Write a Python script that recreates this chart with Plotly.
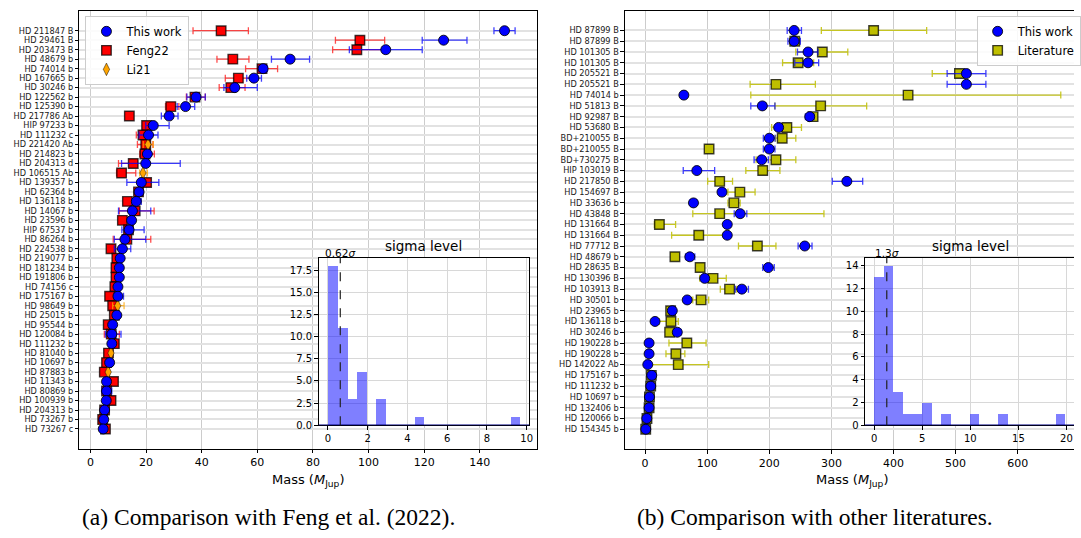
import plotly.graph_objects as go
import numpy as np

W, H = 1081, 538
FONT = "DejaVu Sans"

# ---------------- panel (a): comparison with Feng22 / Li21 ----------------
names_a = ["HD 211847 B", "HD 29461 B", "HD 203473 B", "HD 48679 b", "HD 74014 b",
           "HD 167665 b", "HD 30246 b", "HD 122562 b", "HD 125390 b", "HD 217786 Ab",
           "HIP 97233 b", "HD 111232 c", "HD 221420 Ab", "HD 214823 b", "HD 204313 d",
           "HD 106515 Ab", "HD 139357 b", "HD 62364 b", "HD 136118 b", "HD 14067 b",
           "HD 23596 b", "HIP 67537 b", "HD 86264 b", "HD 224538 b", "HD 219077 b",
           "HD 181234 b", "HD 191806 b", "HD 74156 c", "HD 175167 b", "HD 98649 b",
           "HD 25015 b", "HD 95544 b", "HD 120084 b", "HD 111232 b", "HD 81040 b",
           "HD 10697 b", "HD 87883 b", "HD 11343 b", "HD 80869 b", "HD 100939 b",
           "HD 204313 b", "HD 73267 b", "HD 73267 c"]

this_a = [148.9, 127.0, 106.2, 71.8, 62.1, 58.8, 51.9, 38.0, 34.2, 28.3,
          22.6, 20.9, None, 20.5, 19.9, None, 18.3, 17.5, 16.5, 15.1,
          14.8, 13.9, 12.4, 11.5, 10.7, 10.4, 10.4, 9.9, 9.9, None,
          9.5, 8.0, 7.7, 7.7, None, 6.9, None, 5.8, 5.8, 5.7,
          5.1, 4.8, 4.6]
this_a_em = [3.8, 7.7, 13.1, 6.7, 1.5, 2.6, 3.9, 3.3, 3.0, 2.8,
             2.7, 3.4, 0, 1.0, 8.7, 0, 5.2, 0.5, 1.6, 5.0,
             0.8, 2.6, 3.8, 2.9, 0.4, 0.5, 0.5, 0.4, 1.3, 0,
             0.5, 0.5, 2.3, 0.4, 0, 0.3, 0, 0.4, 1.5, 0.5,
             0.3, 0.2, 0.4]
this_a_ep = [3.8, 8.4, 13.1, 7.0, 1.5, 2.7, 8.1, 3.3, 3.3, 3.2,
             5.7, 3.4, 0, 1.0, 12.4, 0, 6.3, 0.5, 1.8, 6.6,
             0.8, 5.4, 7.5, 3.0, 0.4, 0.5, 0.5, 0.4, 2.0, 0,
             0.5, 0.5, 3.3, 0.4, 0, 0.3, 0, 0.4, 1.9, 0.5,
             0.3, 0.2, 0.4]

feng_a = [47.0, 96.9, 95.8, 51.2, 61.7, 53.2, 50.5, 37.6, 28.9, 14.0,
          20.2, 18.9, 19.9, 19.6, 15.4, 11.2, 20.2, 17.3, 13.3, 16.1,
          11.5, 13.7, 13.1, 7.4, 9.5, 9.2, 9.2, 8.8, 6.9, 8.0,
          8.6, 6.4, 7.5, 8.6, 6.5, 5.8, 5.0, 8.3, 5.8, 7.4,
          5.1, 4.4, 5.4]
feng_a_em = [10.1, 8.8, 8.7, 5.7, 5.9, 4.7, 4.2, 3.1, 1.9, 0,
             1.3, 2.4, 3.0, 1.9, 5.3, 1.8, 1.2, 0.5, 0.7, 5.7,
             0.6, 0.6, 4.9, 0.3, 0.4, 0.4, 0.4, 0.4, 0.4, 0.4,
             0.6, 0.4, 2.5, 0.4, 0.4, 0.3, 0.3, 0.4, 0.4, 0.6,
             0.3, 0.3, 0.4]
feng_a_ep = [9.8, 8.9, 9.2, 5.8, 5.6, 4.8, 5.1, 3.7, 2.9, 0,
             1.5, 2.9, 2.6, 3.4, 0.9, 5.1, 1.2, 0.5, 0.7, 6.8,
             0.6, 0.6, 8.6, 0.3, 0.4, 0.4, 0.4, 0.4, 0.4, 0.4,
             0.6, 0.4, 2.9, 0.4, 0.4, 0.3, 0.3, 0.4, 0.4, 0.6,
             0.3, 0.3, 0.4]

li_names = ["HD 221420 Ab", "HD 106515 Ab", "HD 98649 b", "HD 81040 b", "HD 87883 b"]
li_a = [20.7, 18.9, 9.8, 7.4, 6.4]
li_a_em = [1.7, 1.2, 1.8, 0.5, 0.5]
li_a_ep = [1.9, 1.6, 2.3, 0.5, 0.5]

sigma_a_counts = [18, 11, 3, 6, 0, 3, 0, 0, 0, 1, 0, 0, 0, 0, 0, 0, 0, 0, 0, 1]
sigma_a_lo, sigma_a_hi = 0.0, 9.66
sigma_a_med = 0.62

# ---------------- panel (b): comparison with other literature ----------------
names_b = ["HD 87899 B", "HD 87899 B", "HD 101305 B", "HD 101305 B", "HD 205521 B",
           "HD 205521 B", "HD 74014 b", "HD 51813 B", "HD 92987 B", "HD 53680 B",
           "BD+210055 B", "BD+210055 B", "BD+730275 B", "HIP 103019 B", "HD 217850 B",
           "HD 154697 B", "HD 33636 b", "HD 43848 B", "HD 131664 B", "HD 131664 B",
           "HD 77712 B", "HD 48679 b", "HD 28635 B", "HD 130396 B", "HD 103913 B",
           "HD 30501 b", "HD 23965 b", "HD 136118 b", "HD 30246 b", "HD 190228 b",
           "HD 190228 b", "HD 142022 Ab", "HD 175167 b", "HD 111232 b", "HD 10697 b",
           "HD 132406 b", "HD 120066 b", "HD 154345 b"]

this_b = [240.0, 240.0, 262.4, 262.4, 517.4, 517.4, 62.4, 188.8, 265.1, 215.0,
          200.0, 200.0, 187.8, 83.3, 324.9, 123.8, 77.9, 153.1, 132.3, 132.3,
          257.1, 72.0, 198.4, 96.0, 155.8, 67.8, 43.8, 16.0, 51.8, 6.4,
          6.4, 4.3, 10.7, 9.1, 7.0, 6.4, 2.7, 1.1]
this_b_em = [11.2, 10.0, 17.0, 21.4, 31.0, 31.0, 0, 18.6, 7.0, 5.0,
             9.6, 9.6, 12.3, 21.9, 23.5, 0, 3.0, 9.6, 0, 0,
             10.7, 6.9, 9.0, 0, 10.7, 0, 0, 0, 6.0, 0,
             0, 0, 0, 0, 0, 0, 0, 0]
this_b_ep = [11.8, 10.0, 16.0, 17.1, 31.4, 31.4, 0, 20.3, 7.0, 5.0,
             9.1, 9.1, 10.6, 28.7, 25.5, 0, 3.0, 10.7, 0, 0,
             11.7, 8.0, 9.6, 0, 10.6, 0, 0, 0, 6.0, 0,
             0, 0, 0, 0, 0, 0, 0, 0]

lit_b = [368.0, 241.0, 285.4, 246.4, 506.2, 210.7, 423.5, 282.7, 270.5, 228.3,
         220.8, 103.0, 210.7, 189.4, 120.1, 152.6, 143.0, 120.1, 23.0, 86.4,
         180.8, 48.0, 88.6, 109.4, 136.0, 90.2, 41.1, 41.6, 39.5, 67.2,
         49.6, 53.4, 10.0, 9.0, 7.0, 6.4, 3.0, 1.0]
lit_b_em = [84.2, 8.0, 42.7, 25.0, 43.8, 41.6, 253.3, 73.7, 6.0, 24.5,
            10.6, 0, 32.0, 27.2, 19.3, 19.2, 9.6, 43.3, 8.0, 43.7,
            30.4, 0, 0, 21.4, 14.9, 13.4, 0, 19.2, 5.0, 28.8,
            16.0, 47.0, 0, 0, 0, 0, 0, 0]
lit_b_ep = [85.4, 8.0, 41.0, 25.1, 15.0, 63.5, 245.9, 74.1, 6.0, 23.5,
            21.9, 0, 32.0, 27.7, 20.7, 24.5, 10.1, 167.9, 26.1, 40.0,
            29.9, 0, 0, 21.3, 10.7, 12.2, 0, 11.8, 5.0, 31.0,
            14.4, 49.0, 0, 0, 0, 0, 0, 0]

sigma_b_counts = [13, 14, 3, 1, 1, 2, 0, 1, 0, 0, 1, 0, 0, 1, 0, 0, 0, 0, 0, 1]
sigma_b_lo, sigma_b_hi = 0.0, 19.9
sigma_b_med = 1.3

# ---------------- figure ----------------
BLUE, RED, ORANGE, OLIVE = "#0000ff", "#ff0000", "#ffa500", "#bfbf00"
ya = list(range(len(names_a)))
yb = list(range(len(names_b)))
li_y = [names_a.index(n) for n in li_names]

def err(em, ep, color):
    return dict(type="data", symmetric=False, array=ep, arrayminus=em,
                color=color, thickness=1.3, width=3.5)

fig = go.Figure()

# panel (a)
fig.add_trace(go.Scatter(x=feng_a, y=ya, mode="markers", name="Feng22",
                         legendrank=2, xaxis="x", yaxis="y",
                         marker=dict(symbol="square", size=9.5, color=RED,
                                     line=dict(color="rgba(0,0,0,0.75)", width=1.4)),
                         error_x=err(feng_a_em, feng_a_ep, "rgba(255,0,0,0.7)")))
fig.add_trace(go.Scatter(x=li_a, y=li_y, mode="markers", name="Li21",
                         legendrank=3, xaxis="x", yaxis="y",
                         marker=dict(symbol="diamond-tall", size=9, color=ORANGE,
                                     line=dict(color="rgba(0,0,0,0.6)", width=0.8)),
                         error_x=err(li_a_em, li_a_ep, "rgba(255,165,0,0.75)")))
fig.add_trace(go.Scatter(x=this_a, y=ya, mode="markers", name="This work",
                         legendrank=1, xaxis="x", yaxis="y",
                         marker=dict(symbol="circle", size=10, color=BLUE,
                                     line=dict(color="rgba(0,0,0,0.85)", width=1)),
                         error_x=err(this_a_em, this_a_ep, "rgba(0,0,255,0.75)")))

# panel (b)
fig.add_trace(go.Scatter(x=lit_b, y=yb, mode="markers", name="Literature",
                         legend="legend2", legendrank=2, xaxis="x3", yaxis="y3",
                         marker=dict(symbol="square", size=9.5, color=OLIVE,
                                     line=dict(color="rgba(0,0,0,0.75)", width=1.4)),
                         error_x=err(lit_b_em, lit_b_ep, "rgba(191,191,0,0.85)")))
fig.add_trace(go.Scatter(x=this_b, y=yb, mode="markers", name="This work",
                         legend="legend2", legendrank=1, xaxis="x3", yaxis="y3",
                         marker=dict(symbol="circle", size=10, color=BLUE,
                                     line=dict(color="rgba(0,0,0,0.85)", width=1)),
                         error_x=err(this_b_em, this_b_ep, "rgba(0,0,255,0.75)")))

# histograms
def hist_trace(counts, lo, hi, xa, ya_):
    edges = np.linspace(lo, hi, len(counts) + 1)
    centers = (edges[:-1] + edges[1:]) / 2
    return go.Bar(x=centers, y=counts, width=edges[1] - edges[0], xaxis=xa, yaxis=ya_,
                  marker=dict(color="rgba(0,0,255,0.5)", line=dict(width=0)),
                  showlegend=False)

fig.add_trace(hist_trace(sigma_a_counts, sigma_a_lo, sigma_a_hi, "x2", "y2"))
fig.add_trace(hist_trace(sigma_b_counts, sigma_b_lo, sigma_b_hi, "x4", "y4"))

def px_x(p):
    return p / W

def px_y(p):
    return 1 - p / H

main_axis = dict(showline=True, linecolor="black", linewidth=1, ticks="outside",
                 ticklen=3.5, tickwidth=1, tickcolor="black", zeroline=False,
                 tickfont=dict(family=FONT, size=11, color="black"))
ygrid = dict(showgrid=True, gridcolor="#e2e2e2", gridwidth=2)
xgrid = dict(showgrid=True, gridcolor="#cccccc", gridwidth=1)
inset_grid = dict(showgrid=True, gridcolor="#d8d8d8", gridwidth=1)
small = {**main_axis, "tickfont": dict(family=FONT, size=10, color="black")}
ylab = {**main_axis, "tickfont": dict(family=FONT, size=8.2, color="#1a1a1a")}

fig.update_layout(
    width=W, height=H, margin=dict(l=0, r=0, t=0, b=0),
    paper_bgcolor="white", plot_bgcolor="white",
    font=dict(family=FONT, color="black"),
    bargap=0,
    xaxis=dict(domain=[px_x(80), px_x(540)], range=[-3.93, 160.4], anchor="y",
               tickvals=[0, 20, 40, 60, 80, 100, 120, 140], mirror=True, **main_axis, **xgrid),
    yaxis=dict(domain=[px_y(453), px_y(11)], range=[44.09, -2.09], anchor="x",
               tickvals=ya, ticktext=names_a, mirror=True, **ylab, **ygrid),
    xaxis2=dict(domain=[px_x(320.7), px_x(532.7)], range=[-0.47, 10.13], anchor="y2",
                tickvals=[0, 2, 4, 6, 8, 10], mirror=True, **small, **inset_grid),
    yaxis2=dict(domain=[px_y(429.3), px_y(260)], range=[0, 18.9], anchor="x2",
                tickvals=[0, 2.5, 5, 7.5, 10, 12.5, 15, 17.5], tickformat=".1f", mirror=True,
                **small, **inset_grid),
    xaxis3=dict(domain=[px_x(629), 1.0], range=[-32.5, 690.7], anchor="y3",
                tickvals=[0, 100, 200, 300, 400, 500, 600], mirror=True, **main_axis, **xgrid),
    yaxis3=dict(domain=[px_y(453.3), px_y(10.7)], range=[38.84, -1.84], anchor="x3",
                tickvals=yb, ticktext=names_b, mirror=False, **ylab, **ygrid),
    xaxis4=dict(domain=[px_x(870.7), 1.0], range=[-0.96, 20.79], anchor="y4",
                tickvals=[0, 5, 10, 15, 20], mirror=True, **small, **inset_grid),
    yaxis4=dict(domain=[px_y(429.3), px_y(260)], range=[0, 14.7], anchor="x4",
                tickvals=[0, 2, 4, 6, 8, 10, 12, 14], mirror=False, **small, **inset_grid),
    legend=dict(x=px_x(86), y=px_y(16), xanchor="left", yanchor="top",
                bgcolor="rgba(255,255,255,0.85)", bordercolor="#cccccc", borderwidth=1,
                font=dict(family=FONT, size=11.5, color="black"), tracegroupgap=0),
    legend2=dict(x=px_x(983), y=px_y(16), xanchor="left", yanchor="top",
                 bgcolor="rgba(255,255,255,0.85)", bordercolor="#cccccc", borderwidth=1,
                 font=dict(family=FONT, size=11.5, color="black"), tracegroupgap=0),
)

shapes = []
for xa, ya_, x0, x1, y1 in [("x2", "y2", -0.47, 10.13, 18.9), ("x4", "y4", -0.96, 20.79, 14.7)]:
    shapes.append(dict(type="rect", xref=xa, yref=ya_, x0=x0, x1=x1, y0=0, y1=y1,
                       fillcolor="white", line=dict(width=0), layer="below"))
    shapes.append(dict(type="line", xref=xa, yref=ya_, x0=x0, x1=x1, y0=0, y1=0,
                       line=dict(color="#000080", width=1.5), layer="above"))
shapes.append(dict(type="line", xref="x2", yref="y2 domain", x0=sigma_a_med, x1=sigma_a_med,
                   y0=0, y1=1, line=dict(color="#222", width=1.2, dash="dash")))
shapes.append(dict(type="line", xref="x4", yref="y4 domain", x0=sigma_b_med, x1=sigma_b_med,
                   y0=0, y1=1, line=dict(color="#222", width=1.2, dash="dash")))
fig.update_layout(shapes=shapes)

def note(text, x, y, size, family=FONT, xref="paper", yref="paper", yanchor="middle", yshift=0):
    return dict(text=text, x=x, y=y, xref=xref, yref=yref, xanchor="center", yanchor=yanchor,
                showarrow=False, yshift=yshift, font=dict(family=family, size=size, color="black"))

mass = "Mass (<i>M</i><sub>Jup</sub>)"
ann = [
    note(mass, px_x(310), px_y(485), 13),
    note(mass, px_x(858), px_y(485), 13),
    note("sigma level", px_x(426.7), px_y(248), 13.5),
    note("sigma level", px_x(976.5), px_y(248), 13.5),
    note(f"{sigma_a_med}<i>σ</i>", sigma_a_med, 1, 10.5, xref="x2", yref="y2 domain",
         yanchor="bottom", yshift=-3),
    note(f"{sigma_b_med}<i>σ</i>", sigma_b_med, 1, 10.5, xref="x4", yref="y4 domain",
         yanchor="bottom", yshift=-3),
    note("(a) Comparison with Feng et al. (2022).", px_x(270), px_y(522), 23.5,
         family="Liberation Serif"),
    note("(b) Comparison with other literatures.", px_x(820), px_y(522), 23.5,
         family="Liberation Serif"),
]
fig.update_layout(annotations=ann)

fig.write_html("out.html")
